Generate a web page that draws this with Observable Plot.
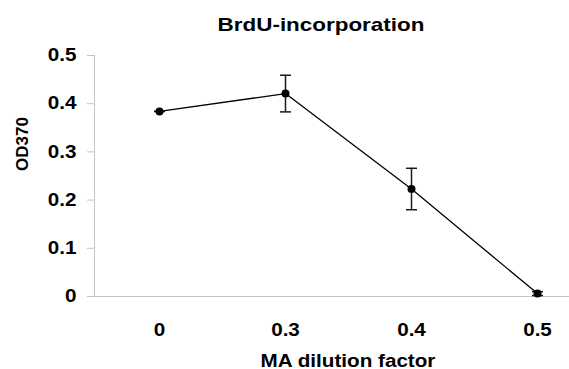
<!DOCTYPE html>
<html>
<head>
<meta charset="utf-8">
<script src="https://cdn.jsdelivr.net/npm/d3@7"></script>
<script src="https://cdn.jsdelivr.net/npm/@observablehq/plot@0.6"></script>
<style>
  html, body { margin: 0; padding: 0; background: #fff; overflow: hidden; }
  svg { font-family: "Liberation Sans", Arial, sans-serif; }
</style>
</head>
<body>
<script>
const title = "BrdU-incorporation";
const xLabel = "MA dilution factor";
const yLabel = "OD370";
const categories = ["0", "0.3", "0.4", "0.5"];
const means = [0.384, 0.421, 0.223, 0.006];
const errors = [0.0, 0.038, 0.043, 0.004];
const yTicks = [0, 0.1, 0.2, 0.3, 0.4, 0.5];

const rows = categories.map((c, i) => ({
  cat: c, mean: means[i], lo: means[i] - errors[i], hi: means[i] + errors[i]
}));

const font = "Liberation Sans, Arial, sans-serif";

// horizontal error-bar cap drawn as a custom dot symbol
const capSymbol = {
  draw(ctx, size) {
    ctx.moveTo(-5.5, 0);
    ctx.lineTo(5.5, 0);
  }
};

const chart = Plot.plot({
  width: 569,
  height: 369,
  marginLeft: 94,
  marginRight: -32,
  marginTop: 55,
  marginBottom: 73,
  style: { fontFamily: font, color: "#c4c4c4", background: "#fff", overflow: "hidden" },
  x: { type: "point", domain: categories, padding: 0.5, axis: null },
  y: {
    domain: [0, 0.5], ticks: yTicks, tickSize: 7, line: true,
    tickFormat: () => "", label: null
  },
  marks: [
    Plot.ruleY([0], { stroke: "#c4c4c4", strokeWidth: 1 }),
    Plot.line(rows, { x: "cat", y: "mean", stroke: "black", strokeWidth: 1.3 }),
    Plot.ruleX(rows, { x: "cat", y1: "lo", y2: "hi", stroke: "#1a1a1a", strokeWidth: 1.5 }),
    Plot.dot(rows, { x: "cat", y: "lo", symbol: capSymbol, fill: "none", stroke: "#1a1a1a", strokeWidth: 1.5 }),
    Plot.dot(rows, { x: "cat", y: "hi", symbol: capSymbol, fill: "none", stroke: "#1a1a1a", strokeWidth: 1.5 }),
    Plot.dot(rows, { x: "cat", y: "mean", r: 4, fill: "black", stroke: null }),
    // y tick labels
    Plot.text(yTicks, {
      y: d => d, text: d => (d === 0 ? "0" : d.toFixed(1)),
      frameAnchor: "left", textAnchor: "end", dx: -18,
      fontSize: 17.5, fontWeight: "bold", fill: "black"
    }),
    // x tick labels
    Plot.text(categories, {
      x: d => d, text: d => d, frameAnchor: "bottom", lineAnchor: "bottom", dy: 39,
      fontSize: 17.5, fontWeight: "bold", fill: "black"
    }),
    // x axis label
    Plot.text([xLabel], {
      frameAnchor: "bottom", lineAnchor: "bottom", dy: 70,
      fontSize: 17.5, fontWeight: "bold", fill: "black"
    }),
    // y axis label
    Plot.text([yLabel], {
      frameAnchor: "left", rotate: -90, dx: -72, dy: -5,
      fontSize: 17, fontWeight: "bold", fill: "black", className: "ylab"
    }),
    // title
    Plot.text([title], {
      frameAnchor: "top", lineAnchor: "bottom", dy: -25, dx: -27,
      fontSize: 19, fontWeight: "bold", fill: "black"
    })
  ]
});

document.body.appendChild(chart);

// horizontal stretch of text glyphs to mimic the original's wide lettering
chart.querySelectorAll("text").forEach(t => {
  if (!t.textContent) return;
  if (t.closest(".ylab") || (t.getAttribute("transform") || "").includes("rotate")) return;
  const w = t.getComputedTextLength();
  if (w > 0) {
    t.setAttribute("textLength", (w * 1.18).toFixed(1));
    t.setAttribute("lengthAdjust", "spacingAndGlyphs");
  }
});
</script>
</body>
</html>
